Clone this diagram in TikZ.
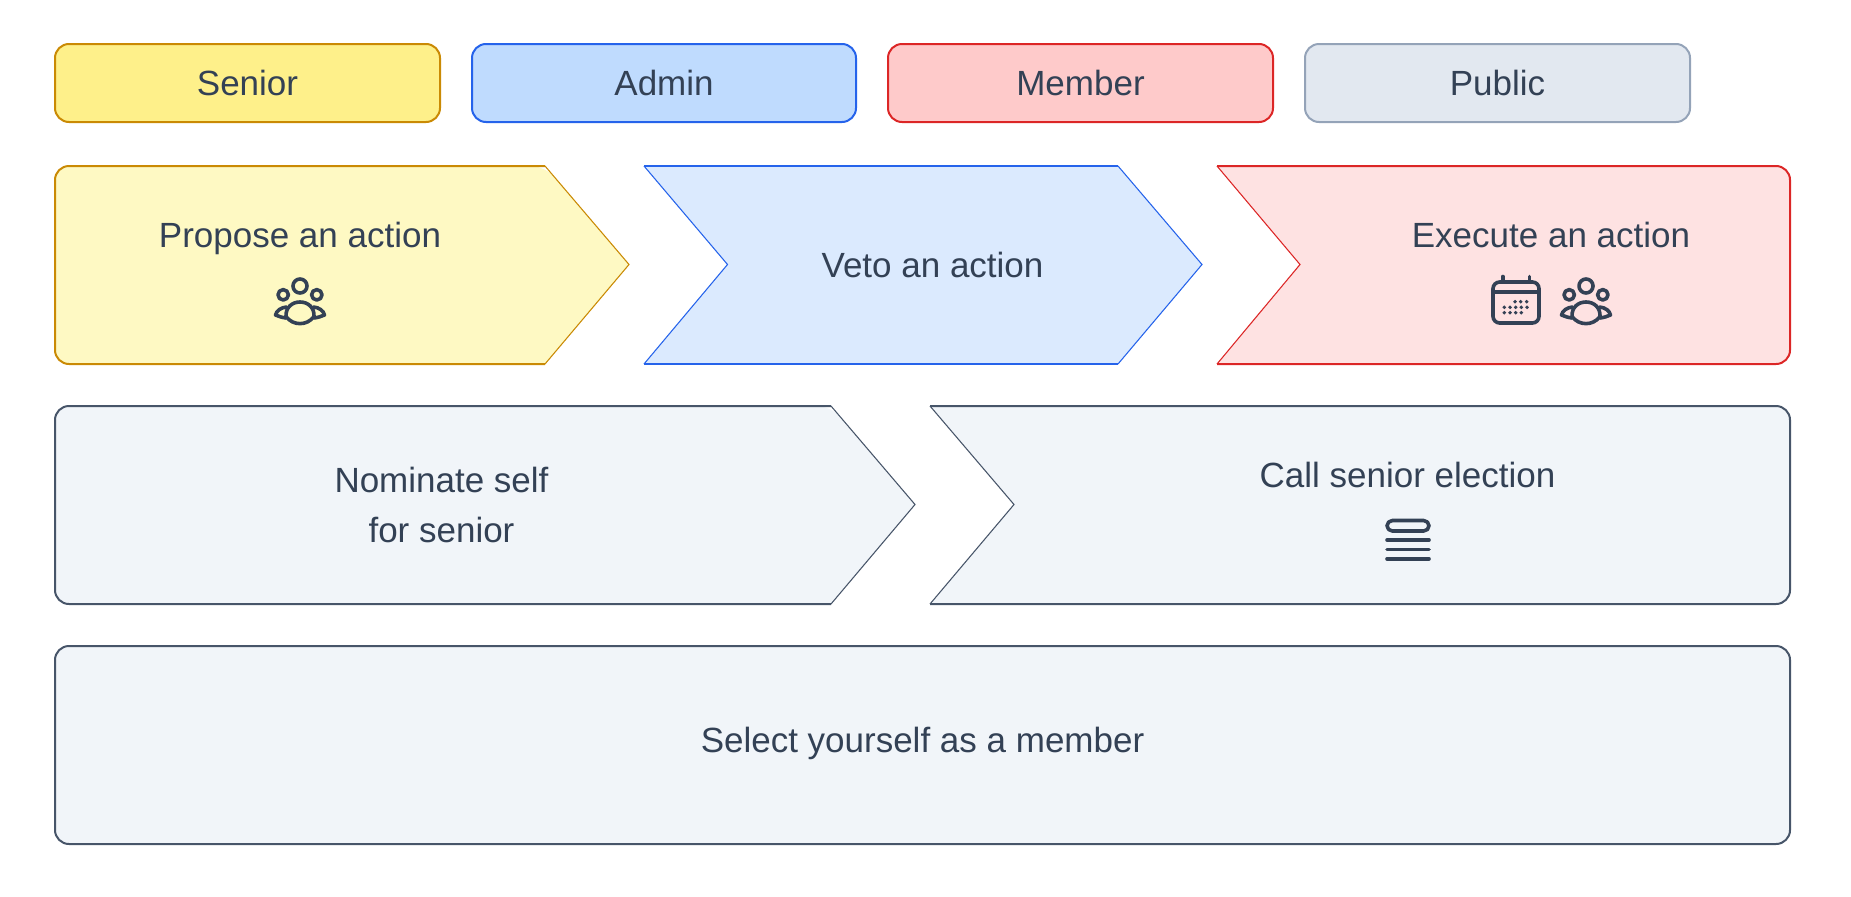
\documentclass[tikz,border=0pt]{standalone}
\usepackage{fontspec}
\setmainfont{Liberation Sans}
\definecolor{ink}{HTML}{334155}
\definecolor{slateb}{HTML}{475569}
\definecolor{slatef}{HTML}{F1F5F9}
\definecolor{senb}{HTML}{CA8A04}
\definecolor{senf}{HTML}{FEF08A}
\definecolor{senl}{HTML}{FEF9C3}
\definecolor{admb}{HTML}{2563EB}
\definecolor{admf}{HTML}{BFDBFE}
\definecolor{adml}{HTML}{DBEAFE}
\definecolor{memb}{HTML}{DC2626}
\definecolor{memf}{HTML}{FECACA}
\definecolor{meml}{HTML}{FEE2E2}
\definecolor{pubb}{HTML}{94A3B8}
\definecolor{pubf}{HTML}{E2E8F0}
\tikzset{
  x=0.75pt,y=-0.75pt,
  label text/.style={inner sep=0pt,outer sep=0pt,anchor=base,text=ink,font=\fontsize{26.25}{31}\selectfont},
  legend box/.style={line width=1.5pt,rounded corners=10.5pt},
  thick edge/.style={line width=1.5pt,line cap=butt},
  thin edge/.style={line width=0.8pt,line join=miter,miter limit=10},
  icon line/.style={draw=ink,line width=2.7pt,line cap=round,line join=round},
  groupicon/.pic={
    \draw[icon line] (0,-15.5) circle[radius=7];
    \draw[icon line] (-16.8,-6.7) circle[radius=5.2];
    \draw[icon line] (16.8,-6.7) circle[radius=5.2];
    % dome with its own lower arc
    \draw[icon line] (-14,15) .. controls (-14.5,6) and (-8,0.5) .. (0,0.5) .. controls (8,0.5) and (14.5,6) .. (14,15) .. controls (7,24.5) and (-7,24.5) .. (-14,15) -- cycle;
    % wings
    \draw[icon line] (-13.5,5.5) .. controls (-19,6) and (-23.5,9) .. (-24.5,13.5) .. controls (-21,15) and (-18,16) .. (-14,16.5);
    \draw[icon line] (13.5,5.5) .. controls (19,6) and (23.5,9) .. (24.5,13.5) .. controls (21,15) and (18,16) .. (14,16.5);
  },
}
\begin{document}
\begin{tikzpicture}
\useasboundingbox (0,0) rectangle (1851,896);
% legend
\foreach \nm/\a/\b/\m/\f/\c/\t in {senior/55/440/247.5/senf/senb/Senior,admin/472/856/664/admf/admb/Admin,member/888/1273/1080.5/memf/memb/Member,public/1305/1690/1497.5/pubf/pubb/Public}{
  \draw[legend box,fill=\f,draw=\c] (\a,44) rectangle (\b,122);
  \node[label text] (\nm) at (\m,95) {\t};
}
% Propose
\fill[senl,rounded corners=10.5pt] (545,166) [sharp corners] -- (629,264.5) -- (545,364) [rounded corners=10.5pt] -- (55,364) -- (55,166) -- cycle;
\draw[thin edge,senb] (545,166) -- (629,264.5) -- (545,364);
\draw[thick edge,senb,rounded corners=10.5pt] (545,166) -- (55,166) -- (55,364) -- (545,364);
% Veto
\fill[adml] (644,166) -- (1118,166) -- (1202,264.5) -- (1118,364) -- (644,364) -- (727.5,264.5) -- cycle;
\draw[thin edge,admb] (1118,166) -- (1202,264.5) -- (1118,364) (644,364) -- (727.5,264.5) -- (644,166);
\draw[thick edge,admb] (644,166) -- (1118,166) (644,364) -- (1118,364);
% Execute
\fill[meml] (1217,166) [rounded corners=10.5pt] -- (1790,166) -- (1790,364) [sharp corners] -- (1217,364) -- (1300,264.5) -- cycle;
\draw[thin edge,memb] (1217,166) -- (1300,264.5) -- (1217,364);
\draw[thick edge,memb,rounded corners=10.5pt] (1217,166) -- (1790,166) -- (1790,364) -- (1217,364);
% Nominate
\fill[slatef,rounded corners=10.5pt] (831,406) [sharp corners] -- (915,504.5) -- (831,604) [rounded corners=10.5pt] -- (55,604) -- (55,406) -- cycle;
\draw[thin edge,slateb] (831,406) -- (915,504.5) -- (831,604);
\draw[thick edge,slateb,rounded corners=10.5pt] (831,406) -- (55,406) -- (55,604) -- (831,604);
% Call
\fill[slatef] (930,406) [rounded corners=10.5pt] -- (1790,406) -- (1790,604) [sharp corners] -- (930,604) -- (1014,504.5) -- cycle;
\draw[thin edge,slateb] (930,406) -- (1014,504.5) -- (930,604);
\draw[thick edge,slateb,rounded corners=10.5pt] (930,406) -- (1790,406) -- (1790,604) -- (930,604);
% Select
\draw[legend box,fill=slatef,draw=slateb] (55,646) rectangle (1790,844);
% labels
\node[label text] (propose) at (300,247) {Propose an action};
\node[label text] (veto) at (932.5,277) {Veto an action};
\node[label text] (execute) at (1551,247) {Execute an action};
\node[label text] (nominate) at (441.5,492) {Nominate self};
\node[label text] (forsenior) at (441.5,542) {for senior};
\node[label text] (call) at (1407.5,487) {Call senior election};
\node[label text] (select) at (922.5,752) {Select yourself as a member};
% icons
\pic at (300,301.5) {groupicon};
\pic at (1586,301.5) {groupicon};
% calendar
\draw[icon line,rounded corners=5pt] (1493,282) rectangle (1539,323);
\draw[icon line] (1493,292) -- (1539,292) (1502.7,276.5) -- (1502.7,282) (1529.3,276.5) -- (1529.3,282);
\foreach \px/\py in {1515/301.7,1520.7/301.7,1526.7/301.7,
  1504.3/307.3,1510/307.3,1515.7/307.3,1521.3/307.3,1527/307.3,
  1504.3/312.7,1510/312.7,1515.7/312.7,1521.3/312.7}
  \fill[ink] (\px,\py) circle[radius=1.45pt];
% ballot icon
\draw[icon line,rounded corners=4pt] (1387,520.5) rectangle (1429,531);
\draw[icon line] (1387,540) -- (1429,540) (1387,549.3) -- (1429,549.3) (1387,558.7) -- (1429,558.7);
\end{tikzpicture}
\end{document}
